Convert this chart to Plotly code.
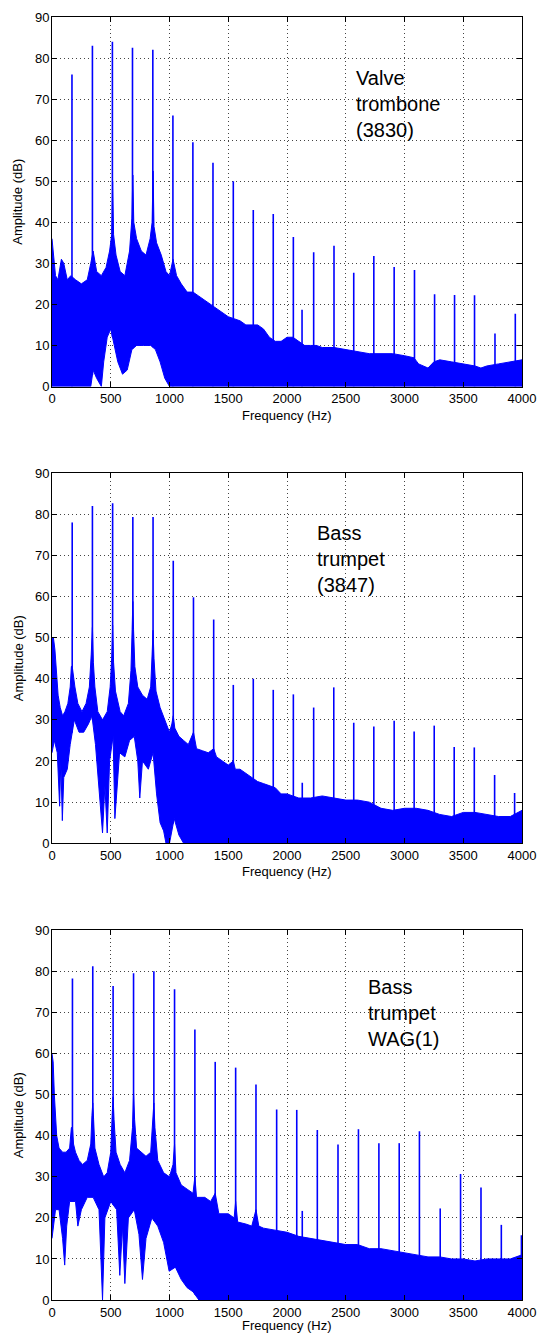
import numpy as np
import plotly.graph_objects as go

# ---------------- data ----------------
# Panel 1: Valve trombone (3830)
p1_harm_f = [170, 344, 514, 685, 858, 1029, 1199, 1370, 1543, 1713, 1883, 2054, 2227,
             2400, 2568, 2739, 2912, 3085, 3256, 3426, 3596, 3770, 3943]
p1_harm_db = [76, 83, 84, 82.5, 82, 66, 59.5, 54.5, 50, 43, 42, 36.4, 32.7,
              34.3, 27.7, 31.8, 29.1, 28.4, 22.5, 22.3, 22.2, 12.9, 17.7]
p1_extra_f = [2128]
p1_extra_db = [18.7]
p1_hi_f = [0, 15, 30, 50, 80, 100, 130, 160, 200, 250, 300, 330, 350, 380, 420, 460, 490, 508, 516, 524,
           545, 580, 620, 660, 680, 688, 696, 720, 760, 800, 835, 852, 860, 868, 890, 930, 970, 1000,
           1030, 1060, 1100, 1150, 1200, 1250, 1300, 1350, 1400, 1450, 1500, 1550, 1600, 1650, 1700,
           1750, 1800, 1850, 1900, 1950, 2000, 2050, 2100, 2150, 2200, 2250, 2300, 2400, 2500, 2600,
           2700, 2800, 2900, 3000, 3080, 3120, 3200, 3250, 3300, 3400, 3500, 3600, 3650, 3700, 3800,
           3900, 4000]
p1_hi_db = [36, 31, 27, 26, 31, 30, 26, 27, 26, 25, 26, 30, 33, 28, 27, 29, 33, 37, 50, 37,
            32, 28, 27, 33, 41, 51.5, 40, 36, 33, 32, 36, 40, 52.5, 39, 35, 32, 28, 27,
            31, 27, 25, 23, 23, 22, 21, 20, 19, 18, 17, 16.5, 16, 15, 15,
            15, 14, 12, 11, 11, 12, 12, 11, 10, 10, 10, 9.5, 9.5, 9, 8.5,
            8, 8, 8, 7.5, 7, 5.5, 4.5, 6, 6.5, 6, 5.5, 5, 4.5, 5, 5.5,
            6, 6.5]
p1_lo_f = [0, 330, 350, 380, 420, 440, 470, 500, 530, 560, 600, 640, 680, 720, 780, 840, 880, 920,
           960, 1000, 4000]
p1_lo_db = [0, 0, 4, 2, 0, 6, 12, 14, 10, 6, 3, 4, 9, 10, 10, 10, 9, 6,
            2, 0, 0]

# Panel 2: Bass trumpet (3847)
p2_harm_f = [172, 344, 516, 688, 860, 1032, 1204, 1376, 1543, 1713, 1883, 2054, 2227,
             2398, 2568, 2739, 2912, 3082, 3253, 3423, 3594, 3767, 3937]
p2_harm_db = [78, 82, 82.7, 79.3, 79.3, 68.7, 59.8, 54.4, 38.5, 40, 37.3, 36.2, 33,
              37.9, 29.3, 28.4, 29.8, 27.2, 28.6, 23.4, 23.3, 16.6, 12.2]
p2_extra_f = [2130]
p2_extra_db = [14.7]
p2_hi_f = [0, 12, 25, 40, 52, 70, 90, 110, 135, 155, 165, 172, 180, 195, 220, 255, 290, 318, 334, 344,
           352, 365, 390, 430, 470, 495, 508, 516, 524, 540, 580, 610, 650, 672, 682, 688, 694, 705,
           730, 770, 810, 840, 852, 860, 868, 885, 920, 960, 1000, 1020, 1032, 1045, 1080, 1120,
           1160, 1204, 1230, 1280, 1330, 1376, 1400, 1450, 1500, 1543, 1560, 1600, 1650, 1700,
           1750, 1800, 1850, 1900, 1950, 2000, 2100, 2200, 2300, 2400, 2500, 2600, 2700, 2800,
           2900, 3000, 3100, 3200, 3300, 3400, 3500, 3600, 3700, 3800, 3900, 4000]
p2_hi_db = [50, 50, 47, 42, 36, 33, 31, 32, 34, 38, 43, 43, 41, 38, 34, 32, 34, 38, 46, 52.5,
            44, 38, 32, 30, 32, 38, 45, 53, 44, 37, 32, 31, 34, 42, 52, 58.8, 52, 43,
            38, 36, 35, 38, 46, 51.8, 45, 37, 33, 30, 27, 29, 31, 28, 26, 25,
            24, 27, 23, 22.5, 22, 23, 21, 20, 19, 20, 18, 18, 17, 16,
            15, 14.5, 14, 13.5, 12, 12, 11, 11, 11.5, 11, 10.5, 10.5, 10, 8.5,
            8, 8.5, 8.5, 8, 7, 6.5, 7.5, 7.5, 7, 6.5, 6.5, 8]
p2_lo_f = [0, 20, 45, 65, 75, 88, 100, 130, 155, 190, 230, 270, 310, 340, 370, 405, 430, 450, 470,
           490, 520, 535, 548, 575, 620, 660, 700, 730, 747, 770, 820, 860, 890, 920, 950, 970, 1000,
           1040, 1080, 1120, 4000]
p2_lo_db = [22, 25, 22, 9, 20, 5.5, 16, 18, 24, 30, 27, 27, 29, 31, 24, 11, 2.5, 14, 2.5,
            20, 26, 6, 11, 22, 21, 25, 26, 20, 11, 20, 18, 22, 12, 5, 3, 0, 0,
            6, 2, 0, 0]

# Panel 3: Bass trumpet WAG(1)
p3_harm_f = [174, 347, 520, 694, 867, 1043, 1216, 1389, 1563, 1736, 1912, 2083, 2258,
             2434, 2608, 2782, 2955, 3127, 3304, 3477, 3651, 3824]
p3_harm_db = [78.3, 81.3, 76.5, 79.6, 80.1, 75.7, 65.9, 58, 56.6, 52.5, 46.4, 46.3, 41.4,
              37.9, 41.6, 38.2, 38.2, 41.1, 22.3, 30.7, 27.4, 18.3]
p3_extra_f = [2130, 3995]
p3_extra_db = [21.7, 15.8]
p3_hi_f = [0, 10, 20, 30, 40, 60, 90, 120, 150, 165, 174, 183, 200, 230, 260, 300, 330, 340, 347, 354,
           365, 400, 440, 470, 500, 512, 520, 528, 545, 580, 620, 660, 685, 694, 703, 720, 760,
           800, 840, 858, 867, 876, 900, 950, 1000, 1030, 1043, 1055, 1100, 1150, 1200, 1216,
           1230, 1300, 1350, 1389, 1420, 1500, 1550, 1563, 1580, 1650, 1700, 1736, 1760, 1800,
           1900, 2000, 2100, 2200, 2300, 2400, 2500, 2600, 2700, 2800, 2900, 3000, 3100, 3200,
           3300, 3400, 3500, 3600, 3700, 3800, 3900, 4000]
p3_hi_db = [60, 58, 50, 44, 40, 37, 36, 36, 37, 42, 42, 38, 36, 34, 33, 34, 38, 45, 48, 44,
            37, 33, 30, 31, 36, 45, 49.5, 44, 36, 33, 31, 34, 42, 50.3, 44, 37, 36,
            35, 36, 44, 48, 42, 34, 31, 30, 33, 38, 31, 28, 27, 26, 30,
            25, 25, 24, 26, 21, 21, 20, 24, 19, 18.5, 18, 22, 18, 17.5,
            17, 16.5, 15.5, 15, 14.5, 14, 13.5, 13.5, 12.5, 12.5, 12, 11.5, 11, 10.5,
            10.5, 10, 10, 9.5, 10, 10, 10, 11]
p3_lo_f = [0, 30, 60, 90, 108, 125, 150, 200, 220, 250, 300, 350, 400, 430, 450, 500, 550, 577,
           600, 620, 650, 700, 740, 770, 800, 850, 900, 950, 997, 1050, 1100, 1150, 1200, 1250,
           4000]
p3_lo_db = [15, 22, 22, 15, 8.5, 18, 24, 24, 18, 22, 25, 25, 22, 0, 20, 24, 22, 6,
            18, 4, 20, 22, 16, 5, 15, 20, 18, 14, 7, 8, 5, 3, 2, 0,
            0]

panel_titles = ["Valve<br>trombone<br>(3830)", "Bass<br>trumpet<br>(3847)", "Bass<br>trumpet<br>WAG(1)"]
label_pos_f = [2570, 2235, 2670]
label_pos_db = [78.3, 78.5, 79.5]

x_title = "Frequency (Hz)"
y_title = "Amplitude (dB)"

# ---------------- figure ----------------
BLUE = "#0000FF"
FONT = "Liberation Sans, Arial, Helvetica, sans-serif"

panels = [
    (p1_harm_f, p1_harm_db, p1_extra_f, p1_extra_db, p1_hi_f, p1_hi_db, p1_lo_f, p1_lo_db),
    (p2_harm_f, p2_harm_db, p2_extra_f, p2_extra_db, p2_hi_f, p2_hi_db, p2_lo_f, p2_lo_db),
    (p3_harm_f, p3_harm_db, p3_extra_f, p3_extra_db, p3_hi_f, p3_hi_db, p3_lo_f, p3_lo_db),
]
domains = [[0.712, 1.0], [0.356, 0.6445], [0.0, 0.288]]
xtitle_shift = [-19, -19, -16]

fig = go.Figure()
annotations = []
for i, (hf, hd, ef, ed, uf, ud, lf, ld) in enumerate(panels):
    xa = "x" if i == 0 else f"x{i+1}"
    ya = "y" if i == 0 else f"y{i+1}"
    # noise band (upper envelope forward, lower envelope back)
    bx = list(uf) + list(lf)[::-1]
    by = list(ud) + list(ld)[::-1]
    fig.add_trace(go.Scatter(x=bx, y=by, mode="lines", fill="toself", fillcolor=BLUE,
                             line=dict(color=BLUE, width=1), xaxis=xa, yaxis=ya,
                             showlegend=False, hoverinfo="skip"))
    # harmonic spikes from the noise floor up to the peak
    pf = list(hf) + list(ef)
    pd_ = list(hd) + list(ed)
    base = np.interp(pf, lf, ld)
    sx, sy = [], []
    for f, b, a in zip(pf, base, pd_):
        sx += [f, f, None]
        sy += [b, a, None]
    fig.add_trace(go.Scatter(x=sx, y=sy, mode="lines", line=dict(color=BLUE, width=1.6),
                             xaxis=xa, yaxis=ya, showlegend=False, hoverinfo="skip"))

    axis_common = dict(showline=True, linecolor="black", linewidth=1, mirror="ticks",
                       ticks="inside", ticklen=5, tickcolor="black", tickwidth=1,
                       showgrid=True, gridcolor="#444444", gridwidth=1, griddash="1px,3px",
                       zeroline=False, automargin=False,
                       tickfont=dict(family=FONT, size=13, color="black"))
    xkey = "xaxis" if i == 0 else f"xaxis{i+1}"
    ykey = "yaxis" if i == 0 else f"yaxis{i+1}"
    fig.update_layout({
        xkey: dict(axis_common, domain=[0, 1], range=[0, 4000], tick0=0, dtick=500,
                   anchor=ya, ticklabelstandoff=0),
        ykey: dict(axis_common, domain=domains[i], range=[0, 90], tick0=0, dtick=10,
                   anchor=xa, ticklabelstandoff=-1),
    })
    annotations.append(dict(text=panel_titles[i], x=label_pos_f[i], y=label_pos_db[i],
                            xref=xa, yref=ya, xanchor="left", yanchor="top", align="left",
                            showarrow=False, font=dict(family=FONT, size=20, color="black")))
    annotations.append(dict(text=x_title, x=0.5, y=domains[i][0], xref="paper", yref="paper",
                            xanchor="center", yanchor="top", yshift=xtitle_shift[i], showarrow=False,
                            font=dict(family=FONT, size=13, color="black")))
    annotations.append(dict(text=y_title, x=0, y=sum(domains[i]) / 2, xref="paper", yref="paper",
                            xanchor="center", yanchor="middle", xshift=-34, textangle=-90,
                            showarrow=False, font=dict(family=FONT, size=13, color="black")))

fig.update_layout(width=539, height=1335, margin=dict(l=52, r=17, t=17, b=35),
                  paper_bgcolor="white", plot_bgcolor="white", showlegend=False,
                  annotations=annotations)

fig.write_html("out.html", config={"displayModeBar": False},
               post_script="document.body.style.margin='0';document.body.style.overflow='hidden';")
